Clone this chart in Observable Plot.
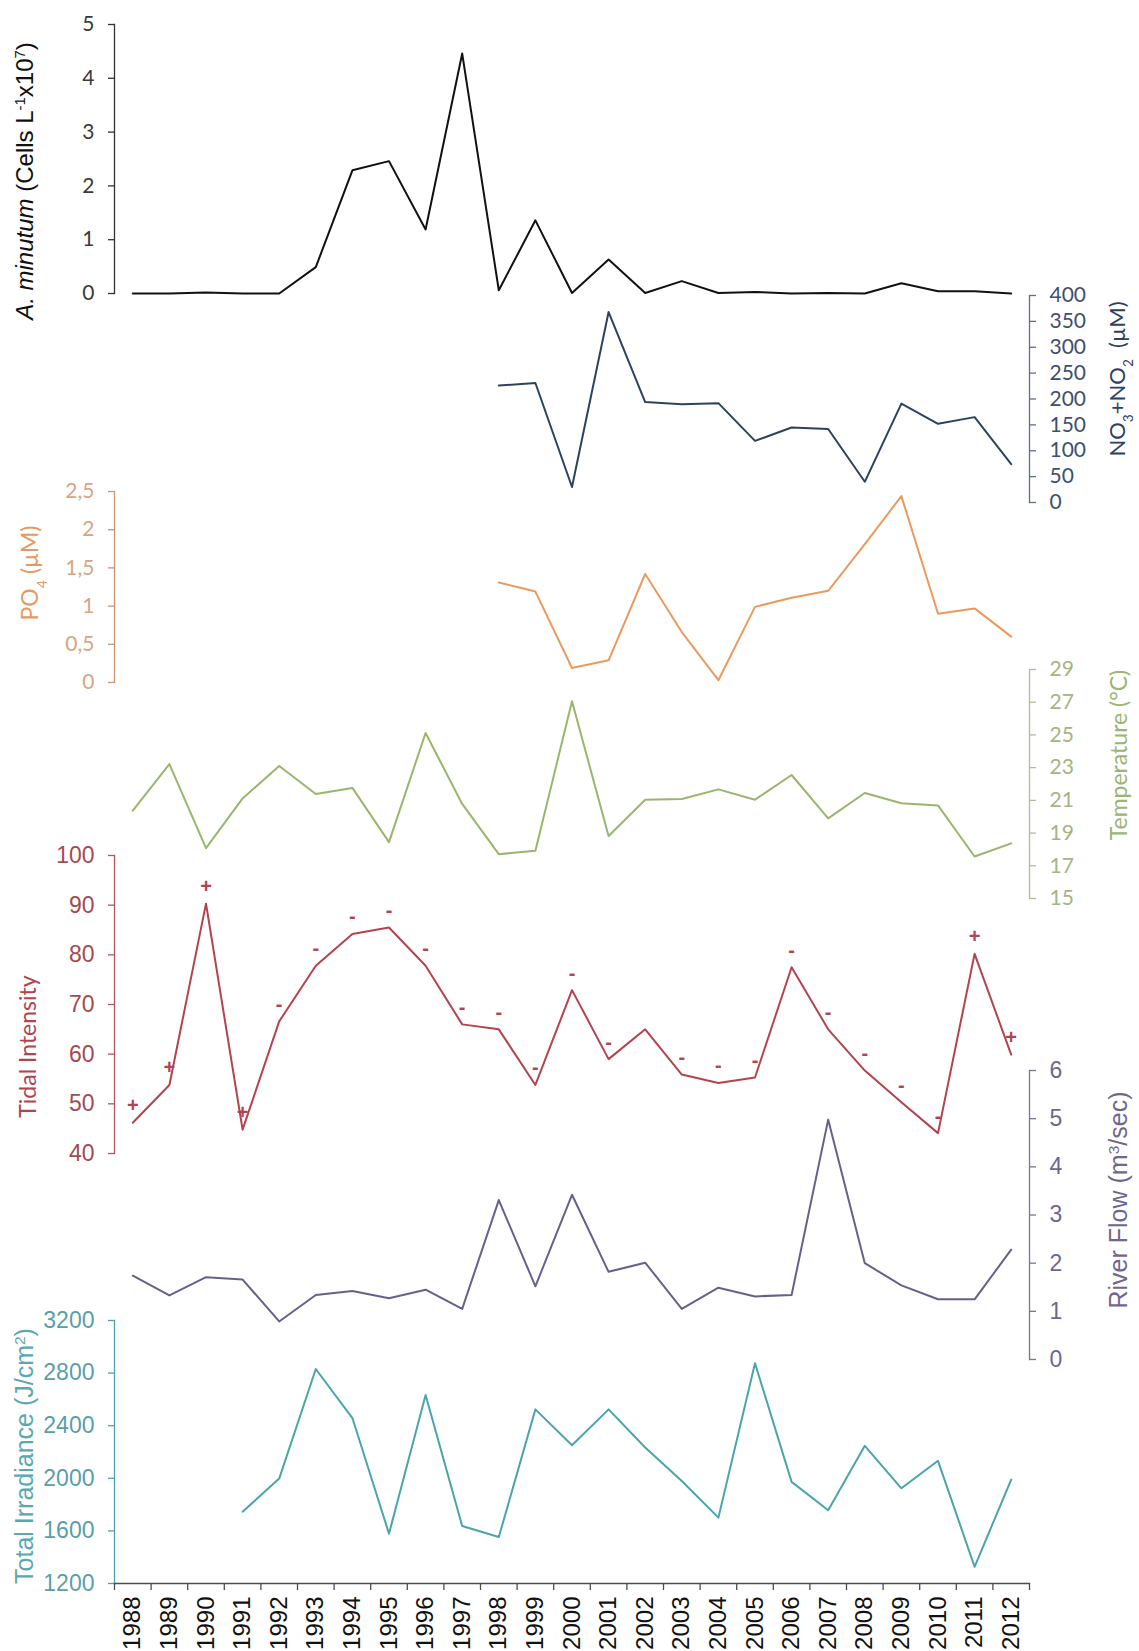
<!DOCTYPE html>
<html><head><meta charset="utf-8">
<script src="https://cdn.jsdelivr.net/npm/d3@7"></script>
<script src="https://cdn.jsdelivr.net/npm/@observablehq/plot@0.6"></script>
<style>
body{margin:0;background:#fff;}
#chart{position:relative;width:1139px;height:1651px;background:#fff;overflow:hidden;}
#chart svg{position:absolute;left:0;top:0;}
</style></head><body><div id="chart"></div>
<script>
// ---- data ----
const years = [1988,1989,1990,1991,1992,1993,1994,1995,1996,1997,1998,1999,2000,2001,2002,2003,2004,2005,2006,2007,2008,2009,2010,2011,2012];
const aMinutum = [0,0,0.02,0,0,0.49,2.29,2.46,1.19,4.46,0.06,1.36,0.01,0.63,0.01,0.23,0.01,0.03,0,0.01,0,0.19,0.04,0.04,0];
const no3no2 = [null,null,null,null,null,null,null,null,null,null,226,231,30,368,194,190,192,119,145,142,40,191,152,165,74];
const po4 = [null,null,null,null,null,null,null,null,null,null,1.31,1.19,0.19,0.29,1.42,0.66,0.03,0.99,1.11,1.20,1.81,2.44,0.90,0.97,0.60];
const temperature = [20.37,23.22,18.08,21.12,23.10,21.39,21.76,18.45,25.12,20.78,17.71,17.92,27.06,18.82,21.04,21.08,21.67,21.04,22.55,19.90,21.45,20.82,20.69,17.57,18.37];
const tidal = [46.2,53.8,90.3,44.8,66.6,77.8,84.2,85.5,77.8,66.0,65.0,53.8,72.9,59.0,65.0,55.9,54.2,55.3,77.5,65.0,56.7,50.3,44.1,80.2,59.9];
const tidalSigns = ["+","+","+","+","-","-","-","-","-","-","-","-","-","-","","-","-","-","-","-","-","-","-","+","+"];
const riverFlow = [1.74,1.33,1.71,1.66,0.79,1.34,1.42,1.27,1.45,1.05,3.31,1.52,3.42,1.82,2.01,1.05,1.49,1.31,1.34,4.98,2.00,1.54,1.25,1.25,2.28];
const irradiance = [null,null,null,1746,1998,2831,2458,1579,2633,1637,1553,2524,2252,2524,2234,1980,1701,2875,1973,1757,2247,1924,2133,1327,1990];

const ticksAM = [0,1,2,3,4,5];
const ticksNO = [0,50,100,150,200,250,300,350,400];
const ticksPO = [0,0.5,1,1.5,2,2.5];
const ticksT = [15,17,19,21,23,25,27,29];
const ticksTI = [40,50,60,70,80,90,100];
const ticksRF = [0,1,2,3,4,5,6];
const ticksIR = [1200,1600,2000,2400,2800,3200];

const titles = {
  T1: '<tspan font-style="italic">A. minutum</tspan> (Cells L<tspan baseline-shift="super" font-size="62%">-1</tspan>x10<tspan baseline-shift="super" font-size="62%">7</tspan>)',
  T2: 'NO<tspan baseline-shift="sub" font-size="62%">3</tspan>+NO<tspan baseline-shift="sub" font-size="62%">2</tspan>  (µM)',
  T3: 'PO<tspan baseline-shift="sub" font-size="62%">4</tspan> (µM)',
  T4: 'Temperature (°C)',
  T5: 'Tidal Intensity',
  T6: 'River Flow (m<tspan baseline-shift="super" font-size="62%">3</tspan>/sec)',
  T7: 'Total Irradiance (J/cm<tspan baseline-shift="super" font-size="62%">2</tspan>)'
};

// ---- layout ----
const W = 1139, H = 1651, XL = 114, XR = 1029;
const ARIAL = "'Liberation Sans', Arial, sans-serif";
const CALI = "Lato, 'Open Sans', sans-serif";
const bounds = [...years.map(y => y - 0.5), years[years.length - 1] + 0.5];

function panel(o) {
  const data = years.map((year, i) => ({year, v: o.values[i], s: o.signs ? o.signs[i] : ""}));
  const marks = [
    Plot.frame({anchor: o.side, stroke: o.axisColor, strokeWidth: 1.3}),
    Plot.axisY({anchor: o.side, ticks: o.ticks, tickFormat: o.fmt || (d => String(d)), tickSize: 6, tickPadding: 14,
      stroke: o.axisColor, strokeWidth: 1.3, fill: o.labelColor, fontSize: o.fontSize, label: null}),
    Plot.line(data, {x: "year", y: "v", stroke: o.color, strokeWidth: o.lw || 2}),
    Plot.text([o.title], {frameAnchor: o.side, text: d => d, rotate: -90, textAnchor: "middle", dx: o.tdx, dy: o.tdy,
      fill: o.titleColor, fontSize: o.titleSize, fontFamily: o.titleFont})
  ];
  if (o.signs) {
    marks.push(Plot.text(data.filter(d => d.s), {x: "year", y: "v", text: "s", dy: -17,
      fill: o.color, fontSize: 20, fontWeight: "bold", fontFamily: ARIAL}));
  }
  if (o.xaxis) {
    marks.push(
      Plot.frame({anchor: "bottom", stroke: "#4d4d4d", strokeWidth: 1.3}),
      Plot.axisX({ticks: bounds, tickFormat: () => "", tickSize: 7, stroke: "#4d4d4d", strokeWidth: 1.3, label: null}),
      Plot.axisX({ticks: years, tickFormat: d => String(d), tickSize: 0, tickPadding: 13, tickRotate: -90,
        fill: "#111", fontSize: 24, fontFamily: ARIAL, label: null})
    );
  }
  const svg = Plot.plot({
    width: W, height: H,
    marginTop: o.top, marginBottom: H - o.bottom, marginLeft: XL, marginRight: W - XR,
    style: {background: "transparent", fontFamily: o.font, overflow: "visible"},
    x: {type: "linear", domain: [bounds[0], bounds[bounds.length - 1]], axis: null},
    y: {domain: o.domain, axis: null},
    marks
  });
  svg.querySelectorAll("text").forEach(t => {
    if (titles[t.textContent]) t.innerHTML = titles[t.textContent];
  });
  return svg;
}

const panels = [
  {values: aMinutum, domain: [0,5], ticks: ticksAM, top: 24, bottom: 293, side: "left",
   color: "#111111", axisColor: "#333333", labelColor: "#3a3a3a", font: CALI, fontSize: 21,
   title: "T1", titleColor: "#111", titleSize: 24, titleFont: ARIAL, tdx: -89, tdy: 22},
  {values: no3no2, domain: [0,400], ticks: ticksNO, top: 295, bottom: 502, side: "right",
   color: "#2d4262", axisColor: "#5f6f86", labelColor: "#3d5070", font: CALI, fontSize: 21,
   title: "T2", titleColor: "#2d4262", titleSize: 22, titleFont: CALI, tdx: 88, tdy: -20},
  {values: po4, domain: [0,2.5], ticks: ticksPO, top: 491, bottom: 682, side: "left",
   color: "#eb9a5f", axisColor: "#cf9474", labelColor: "#d8a584", font: CALI, fontSize: 21,
   fmt: d => String(d).replace(".", ","),
   title: "T3", titleColor: "#e59a66", titleSize: 23, titleFont: CALI, tdx: -84, tdy: -14},
  {values: temperature, domain: [15,29], ticks: ticksT, top: 669, bottom: 898, side: "right",
   color: "#9ab56c", axisColor: "#b0bd98", labelColor: "#a4b483", font: CALI, fontSize: 21,
   title: "T4", titleColor: "#9db476", titleSize: 23, titleFont: CALI, tdx: 90, tdy: -29},
  {values: tidal, domain: [40,100], ticks: ticksTI, top: 855, bottom: 1153, side: "left",
   color: "#b3434e", axisColor: "#b5545d", labelColor: "#a34a53", font: ARIAL, fontSize: 23, signs: tidalSigns,
   title: "T5", titleColor: "#b3434e", titleSize: 23, titleFont: CALI, tdx: -86, tdy: 42},
  {values: riverFlow, domain: [0,6], ticks: ticksRF, top: 1070, bottom: 1359, side: "right",
   color: "#6a5e8c", axisColor: "#7a7590", labelColor: "#6d6790", font: ARIAL, fontSize: 23,
   title: "T6", titleColor: "#6f6792", titleSize: 25, titleFont: ARIAL, tdx: 89, tdy: -15},
  {values: irradiance, domain: [1200,3200], ticks: ticksIR, top: 1320, bottom: 1583, side: "left",
   color: "#4ba4ac", axisColor: "#4ba4ac", labelColor: "#5a9ea7", font: ARIAL, fontSize: 23, xaxis: true,
   title: "T7", titleColor: "#5aa8b0", titleSize: 25, titleFont: ARIAL, tdx: -90, tdy: 4}
];

const root = document.getElementById("chart");
for (const p of panels) root.appendChild(panel(p));
</script></body></html>
